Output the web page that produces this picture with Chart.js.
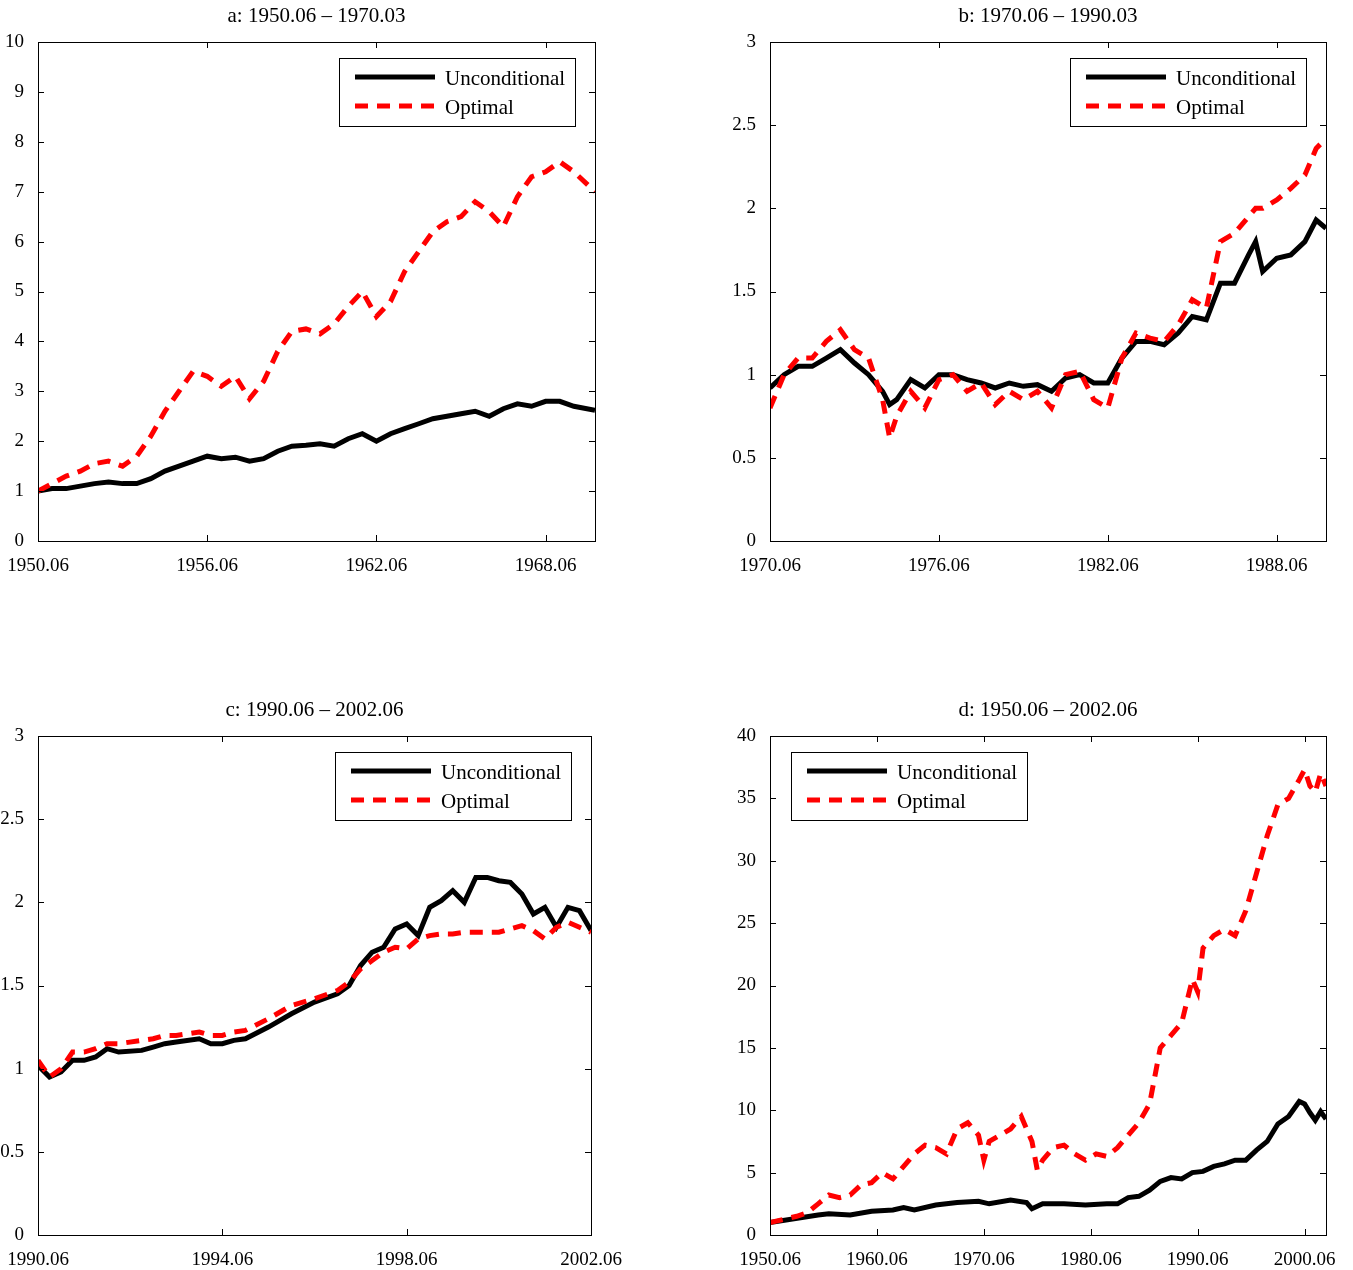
<!DOCTYPE html>
<html>
<head>
<meta charset="utf-8">
<script src="https://cdn.jsdelivr.net/npm/chart.js@4"></script>
<style>
  body { margin: 0; background: #fff; width: 1353px; height: 1270px; position: relative; overflow: hidden; }
  .box { position: absolute; }
</style>
</head>
<body>
<div class="box" style="left:0;top:0;width:676px;height:600px"><canvas id="chartA"></canvas></div>
<div class="box" style="left:676px;top:0;width:677px;height:600px"><canvas id="chartB"></canvas></div>
<div class="box" style="left:0;top:694px;width:676px;height:600px"><canvas id="chartC"></canvas></div>
<div class="box" style="left:676px;top:694px;width:677px;height:600px"><canvas id="chartD"></canvas></div>
<script>
// Panel a: 1950.06 - 1970.03
const aUncX = [1950.5,1951,1951.5,1952,1952.5,1953,1953.5,1954,1954.5,1955,1955.5,1956,1956.5,1957,1957.5,1958,1958.5,1959,1959.5,1960,1960.5,1961,1961.5,1962,1962.5,1963,1963.5,1964,1964.5,1965,1965.5,1966,1966.5,1967,1967.5,1968,1968.5,1969,1969.5,1970.25];
const aUncY = [1.0,1.05,1.05,1.1,1.15,1.18,1.15,1.15,1.25,1.4,1.5,1.6,1.7,1.65,1.68,1.6,1.65,1.8,1.9,1.92,1.95,1.9,2.05,2.15,2.0,2.15,2.25,2.35,2.45,2.5,2.55,2.6,2.5,2.65,2.75,2.7,2.8,2.8,2.7,2.62];
const aOptY = [1.0,1.15,1.3,1.4,1.55,1.6,1.5,1.7,2.1,2.6,3.0,3.4,3.3,3.1,3.3,2.85,3.2,3.8,4.2,4.25,4.15,4.35,4.7,5.0,4.5,4.8,5.4,5.8,6.2,6.4,6.5,6.8,6.6,6.3,6.9,7.3,7.4,7.6,7.4,7.0];

// Panel b: 1970.06 - 1990.03
const bX = [1970.5,1971,1971.5,1972,1972.5,1973,1973.5,1974,1974.5,1974.75,1975,1975.5,1976,1976.5,1977,1977.5,1978,1978.5,1979,1979.5,1980,1980.5,1981,1981.5,1982,1982.5,1983,1983.5,1984,1984.5,1985,1985.5,1986,1986.5,1987,1987.5,1987.75,1988,1988.5,1989,1989.5,1989.9,1990.25];
const bUncY = [0.92,1.0,1.05,1.05,1.1,1.15,1.07,1.0,0.9,0.82,0.85,0.97,0.92,1.0,1.0,0.97,0.95,0.92,0.95,0.93,0.94,0.9,0.98,1.0,0.95,0.95,1.1,1.2,1.2,1.18,1.25,1.35,1.33,1.55,1.55,1.72,1.8,1.62,1.7,1.72,1.8,1.93,1.88];
const bOptY = [0.8,1.0,1.1,1.1,1.2,1.27,1.15,1.1,0.85,0.62,0.75,0.9,0.8,0.97,1.0,0.9,0.95,0.82,0.9,0.85,0.9,0.8,1.0,1.02,0.85,0.8,1.1,1.25,1.22,1.2,1.3,1.45,1.4,1.8,1.85,1.95,2.0,2.0,2.05,2.12,2.2,2.36,2.42];

// Panel c: 1990.06 - 2002.06
const cX = [1990.5,1990.75,1991,1991.25,1991.5,1991.75,1992,1992.25,1992.75,1993,1993.25,1993.5,1994,1994.25,1994.5,1994.75,1995,1995.5,1996,1996.5,1997,1997.25,1997.5,1997.75,1998,1998.25,1998.5,1998.75,1999,1999.25,1999.5,1999.75,2000,2000.25,2000.5,2000.75,2001,2001.25,2001.5,2001.75,2002,2002.25,2002.5];
const cUncY = [1.02,0.95,0.98,1.05,1.05,1.07,1.12,1.1,1.11,1.13,1.15,1.16,1.18,1.15,1.15,1.17,1.18,1.25,1.33,1.4,1.45,1.5,1.62,1.7,1.73,1.84,1.87,1.8,1.97,2.01,2.07,2.0,2.15,2.15,2.13,2.12,2.05,1.93,1.97,1.85,1.97,1.95,1.83];
const cOptY = [1.05,0.95,1.0,1.1,1.1,1.12,1.15,1.15,1.17,1.18,1.2,1.2,1.22,1.2,1.2,1.22,1.23,1.3,1.38,1.42,1.47,1.52,1.6,1.65,1.7,1.73,1.72,1.78,1.8,1.81,1.81,1.82,1.82,1.82,1.82,1.84,1.86,1.83,1.78,1.85,1.88,1.85,1.82];

// Panel d: 1950.06 - 2002.06
const dUncX = [1950.5,1955,1956,1958,1960,1962,1963,1964,1966,1968,1970,1971,1973,1974.5,1975,1976,1978,1980,1982,1983,1984,1985,1986,1987,1988,1989,1990,1991,1992,1993,1994,1995,1996,1997,1998,1999,2000,2000.5,2001,2001.5,2002,2002.5];
const dUncY = [1.0,1.6,1.7,1.6,1.9,2.0,2.2,2.0,2.4,2.6,2.7,2.5,2.8,2.6,2.1,2.5,2.5,2.4,2.5,2.5,3.0,3.1,3.6,4.3,4.6,4.5,5.0,5.1,5.5,5.7,6.0,6.0,6.8,7.5,8.9,9.5,10.7,10.5,9.8,9.2,9.9,9.3];
const dOptX = [1950.5,1953,1954,1955,1956,1957,1958,1959,1960,1961,1962,1963,1964,1965,1966,1967,1968,1969,1970,1970.5,1971,1972,1973,1974,1975,1975.5,1976,1977,1978,1979,1980,1981,1982,1983,1984,1985,1986,1987,1988,1989,1990,1990.5,1991,1992,1993,1994,1995,1996,1997,1998,1999,2000,2000.5,2001,2001.5,2002,2002.5];
const dOptY = [1.0,1.5,1.8,2.5,3.2,3.0,3.2,4.0,4.2,5.0,4.5,5.5,6.5,7.2,7.0,6.5,8.5,9.0,8.0,6.0,7.5,8.0,8.5,9.5,7.5,5.2,6.0,7.0,7.2,6.5,6.0,6.5,6.3,7.0,8.0,9.0,10.5,15.0,16.0,17.0,20.5,19.5,23.0,24.0,24.5,24.0,26.0,29.0,32.0,34.5,35.0,36.5,37.3,36.0,35.5,37.0,36.0];

const seriesLabels = ['Unconditional', 'Optimal'];
const serif = 'Liberation Serif, Times New Roman, serif';

function pts(xs, ys) { return xs.map((x, i) => ({ x: x, y: ys[i] })); }

const framePlugin = {
  id: 'frame',
  afterDraw(chart, args, opts) {
    const ctx = chart.ctx, a = chart.chartArea;
    ctx.save();
    ctx.strokeStyle = '#000';
    ctx.lineWidth = 1;
    ctx.strokeRect(a.left + 0.5, a.top + 0.5, a.width, a.height);
    const tl = 6;
    chart.scales.x.ticks.forEach(t => {
      const px = Math.round(chart.scales.x.getPixelForValue(t.value)) + 0.5;
      ctx.beginPath();
      ctx.moveTo(px, a.bottom); ctx.lineTo(px, a.bottom - tl);
      ctx.moveTo(px, a.top); ctx.lineTo(px, a.top + tl);
      ctx.stroke();
    });
    chart.scales.y.ticks.forEach(t => {
      const py = Math.round(chart.scales.y.getPixelForValue(t.value)) + 0.5;
      ctx.beginPath();
      ctx.moveTo(a.left, py); ctx.lineTo(a.left + tl, py);
      ctx.moveTo(a.right, py); ctx.lineTo(a.right - tl, py);
      ctx.stroke();
    });
    // title
    ctx.fillStyle = '#000';
    ctx.font = '21px ' + serif;
    ctx.textAlign = 'center';
    ctx.textBaseline = 'bottom';
    ctx.fillText(opts.title, (a.left + a.right) / 2, a.top - 15);
    // legend
    const lx = a.left + opts.legendX, ly = a.top + 16, lw = 236, lh = 68;
    ctx.fillStyle = '#fff';
    ctx.fillRect(lx, ly, lw, lh);
    ctx.strokeRect(lx + 0.5, ly + 0.5, lw, lh);
    ctx.font = '21px ' + serif;
    ctx.textAlign = 'left';
    ctx.textBaseline = 'middle';
    chart.data.datasets.forEach((ds, i) => {
      const yy = ly + 19 + i * 29;
      ctx.strokeStyle = ds.borderColor;
      ctx.lineWidth = 5;
      ctx.setLineDash(ds.borderDash || []);
      ctx.beginPath(); ctx.moveTo(lx + 16, yy); ctx.lineTo(lx + 96, yy); ctx.stroke();
      ctx.setLineDash([]);
      ctx.fillStyle = '#000';
      ctx.fillText(ds.label, lx + 106, yy + 2);
    });
    ctx.restore();
  }
};

function makeChart(id, cfg) {
  new Chart(document.getElementById(id), {
    type: 'line',
    data: {
      datasets: [
        { label: seriesLabels[0], data: cfg.unc, borderColor: '#000', borderWidth: 5, pointRadius: 0, tension: 0, order: 2 },
        { label: seriesLabels[1], data: cfg.opt, borderColor: '#ff0000', borderWidth: 5, borderDash: [13, 9], pointRadius: 0, tension: 0, order: 1 }
      ]
    },
    options: {
      responsive: true, maintainAspectRatio: false, animation: false,
      layout: { padding: { top: 42, left: cfg.padLeft, right: cfg.padRight, bottom: 0 } },
      plugins: { legend: { display: false }, tooltip: { enabled: false }, frame: { title: cfg.title, legendX: cfg.legendX } },
      scales: {
        x: {
          type: 'linear', min: cfg.xMin, max: cfg.xMax,
          grid: { display: false }, border: { display: false },
          afterBuildTicks: s => { s.ticks = cfg.xTicks.map(v => ({ value: v })); },
          afterFit: s => { s.height = 59; },
          ticks: { color: '#000', font: { family: serif, size: 19 }, maxRotation: 0, padding: 6,
                   callback: v => Math.floor(v) + '.06' }
        },
        y: {
          min: cfg.yMin, max: cfg.yMax,
          grid: { display: false }, border: { display: false },
          afterFit: s => { s.width = 38; },
          ticks: { color: '#000', font: { family: serif, size: 19 }, stepSize: cfg.yStep, padding: 6,
                   callback: v => String(Number(v)) }
        }
      }
    },
    plugins: [framePlugin]
  });
}

makeChart('chartA', { title: 'a: 1950.06 \u2013 1970.03', unc: pts(aUncX, aUncY), opt: pts(aUncX, aOptY),
  xMin: 1950.5, xMax: 1970.25, xTicks: [1950.5, 1956.5, 1962.5, 1968.5], yMin: 0, yMax: 10, yStep: 1,
  padLeft: 0, padRight: 81, legendX: 301 });
makeChart('chartB', { title: 'b: 1970.06 \u2013 1990.03', unc: pts(bX, bUncY), opt: pts(bX, bOptY),
  xMin: 1970.5, xMax: 1990.25, xTicks: [1970.5, 1976.5, 1982.5, 1988.5], yMin: 0, yMax: 3, yStep: 0.5,
  padLeft: 56, padRight: 27, legendX: 300 });
makeChart('chartC', { title: 'c: 1990.06 \u2013 2002.06', unc: pts(cX, cUncY), opt: pts(cX, cOptY),
  xMin: 1990.5, xMax: 2002.5, xTicks: [1990.5, 1994.5, 1998.5, 2002.5], yMin: 0, yMax: 3, yStep: 0.5,
  padLeft: 0, padRight: 85, legendX: 297 });
makeChart('chartD', { title: 'd: 1950.06 \u2013 2002.06', unc: pts(dUncX, dUncY), opt: pts(dOptX, dOptY),
  xMin: 1950.5, xMax: 2002.5, xTicks: [1950.5, 1960.5, 1970.5, 1980.5, 1990.5, 2000.5], yMin: 0, yMax: 40, yStep: 5,
  padLeft: 56, padRight: 27, legendX: 21 });
</script>
</body>
</html>
